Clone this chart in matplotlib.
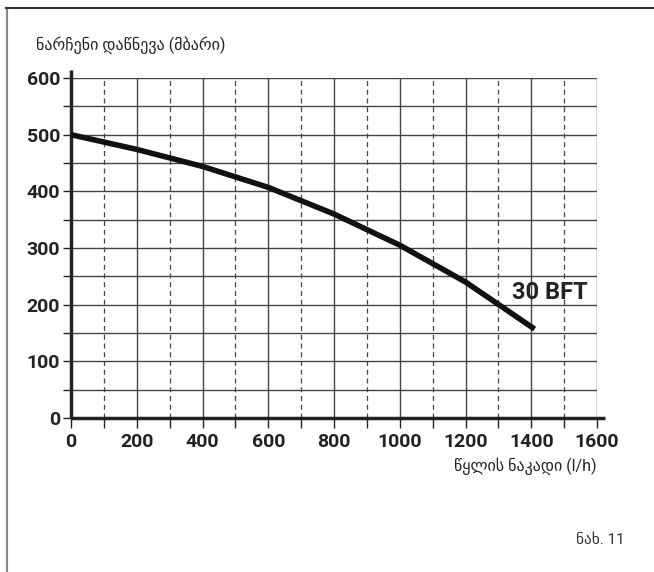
import matplotlib.pyplot as plt
from matplotlib.lines import Line2D
from matplotlib.ticker import MultipleLocator

# Pump residual head curve
flow = [0, 200, 400, 600, 800, 1000, 1200, 1410]
head = [500, 474, 444, 407, 360, 305, 240, 157]

x_ticks = [0, 200, 400, 600, 800, 1000, 1200, 1400, 1600]
y_ticks = [0, 100, 200, 300, 400, 500, 600]
solid_x = [200, 400, 600, 800, 1000, 1200, 1400, 1600]
dashed_x = [100, 300, 500, 700, 900, 1100, 1300, 1500]

curve_label = "30 BFT"
y_title = "ნარჩენი დაწნევა (მბარი)"
x_title = "წყლის ნაკადი (l/h)"
fig_note = "ნახ. 11"

fonts = ['Roboto', 'DejaVu Sans']
ink = '#222222'
grid_c = '#444444'

fig = plt.figure(figsize=(6.54, 5.72), dpi=100)
ax = fig.add_axes([0.1086, 0.2692, 0.8043, 0.5944])
ax.set_xlim(0, 1600)
ax.set_ylim(0, 600)
for s in ax.spines.values():
    s.set_visible(False)

# grid: solid horizontals every 50, solid / dashed verticals
for yv in range(50, 601, 50):
    ax.axhline(yv, color=grid_c, lw=1.0, zorder=1)
for xv in solid_x:
    ax.axvline(xv, color=grid_c, lw=1.0, zorder=1)
for xv in dashed_x:
    ax.axvline(xv, color=grid_c, lw=0.9, ls=(0, (4, 3)), zorder=1)

# axes lines, a bit longer than the grid
ax.plot([0, 0], [0, 615], color=ink, lw=2.5, clip_on=False, zorder=3, solid_capstyle='butt')
ax.plot([0, 1625], [0, 0], color=ink, lw=2.5, clip_on=False, zorder=3, solid_capstyle='butt')

ax.plot(flow, head, color='#111111', lw=4, solid_capstyle='butt', zorder=4)
ax.text(1340, 222, curve_label, fontsize=17, fontweight='bold', family=fonts,
        color=ink, va='center', ha='left', zorder=5)

ax.set_xticks(x_ticks)
ax.xaxis.set_minor_locator(MultipleLocator(100))
ax.set_yticks(y_ticks)
ax.yaxis.set_minor_locator(MultipleLocator(50))
ax.tick_params(axis='both', which='both', direction='out', color=ink, width=1.0)
ax.tick_params(axis='x', which='both', length=7, pad=4)
ax.tick_params(axis='y', which='both', length=6, pad=2)
for lab in ax.get_xticklabels() + ax.get_yticklabels():
    lab.set_family(fonts)
    lab.set_fontsize(14)
    lab.set_fontweight('bold')
    lab.set_color(ink)

fig.text(36 / 654, 1 - 45 / 572, y_title, fontsize=11.5, family=fonts, color=ink,
         ha='left', va='center')
fig.text(597 / 654, 1 - 466 / 572, x_title, fontsize=11.5, family=fonts, color=ink,
         ha='right', va='center')
fig.text(625 / 654, 1 - 540 / 572, fig_note, fontsize=11, family=fonts, color='#333333',
         ha='right', va='center')

# page frame (left and top edges)
fig.add_artist(Line2D([6.5 / 654, 6.5 / 654], [0, 1 - 8 / 572], color='#888888', lw=1.5))
fig.add_artist(Line2D([6 / 654, 1], [1 - 8 / 572, 1 - 8 / 572], color='#333333', lw=1.5))

fig.savefig('out.png', dpi=100)
